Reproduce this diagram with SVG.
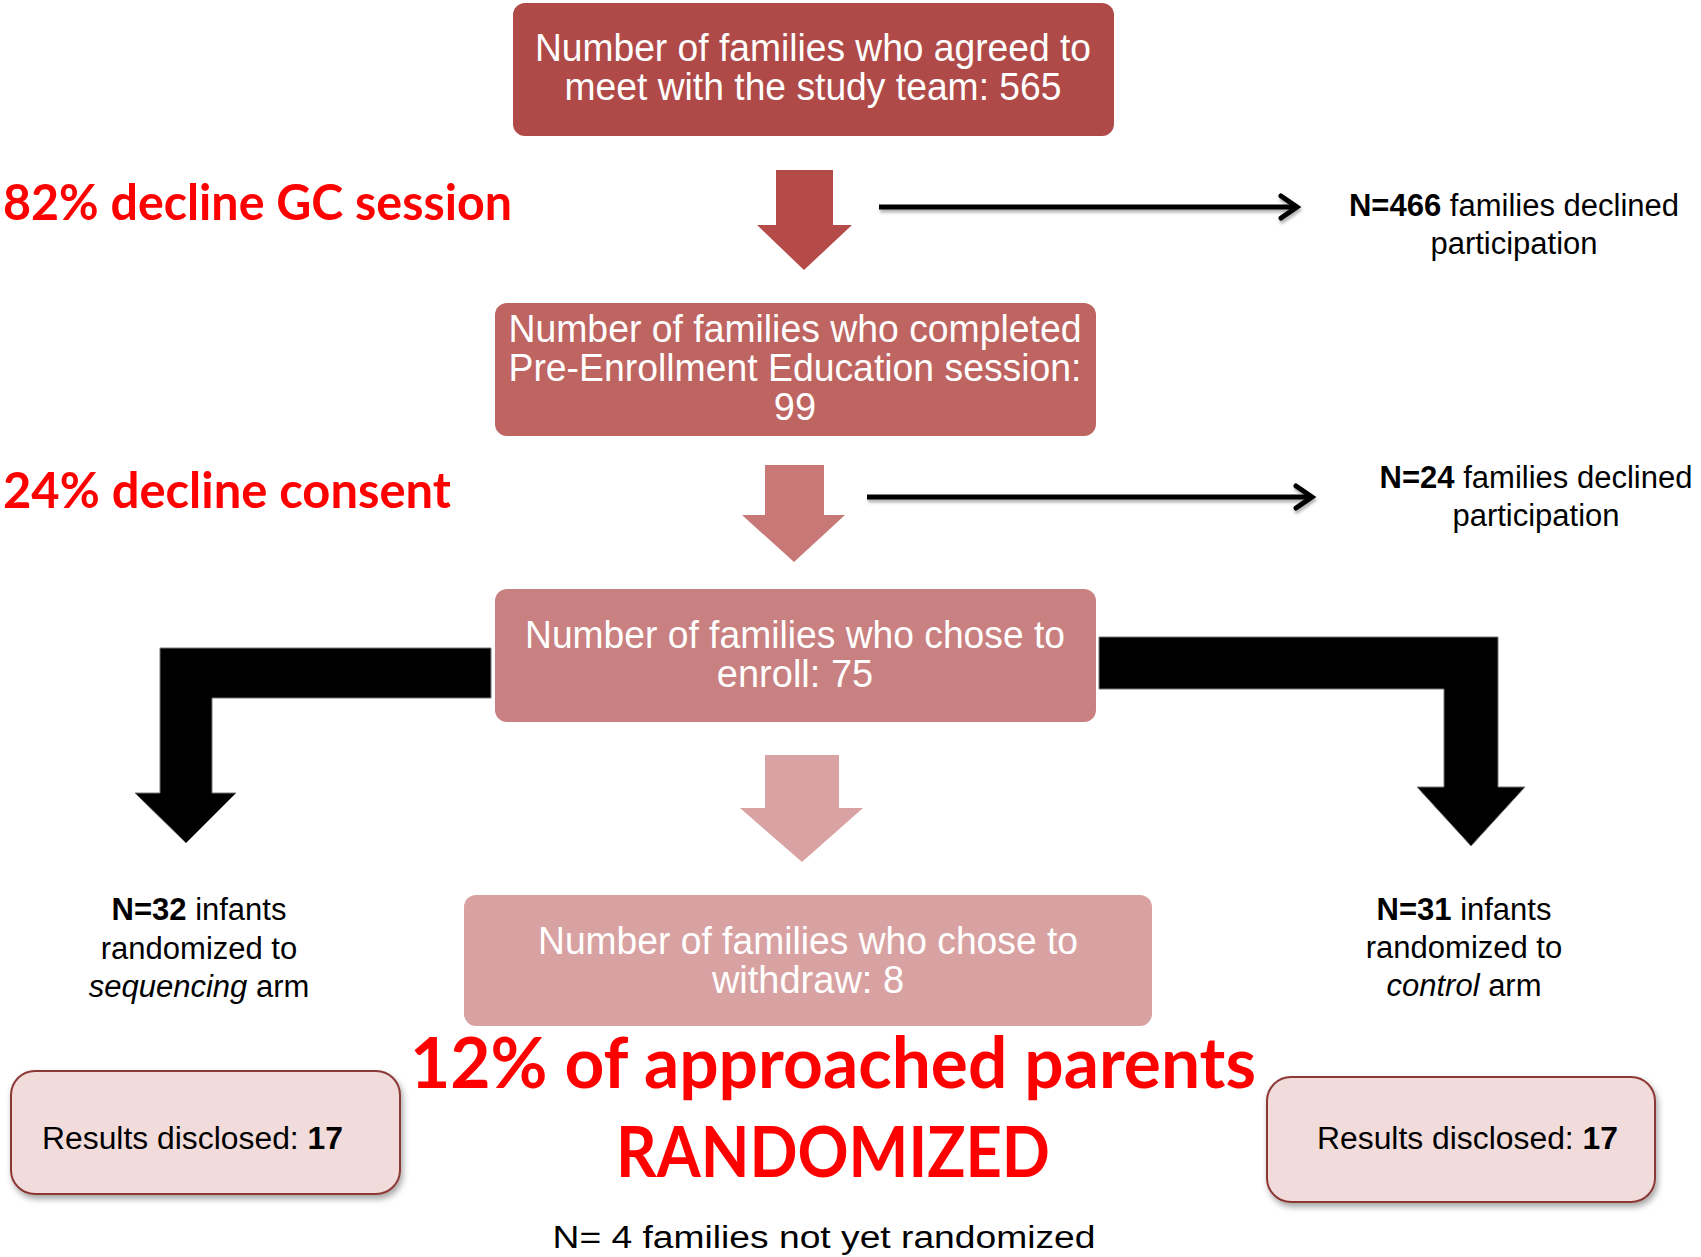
<svg xmlns="http://www.w3.org/2000/svg" width="1701" height="1257" viewBox="0 0 1701 1257">
<style>
.wt{font-family:"Liberation Sans",Arial,sans-serif;font-size:38px;fill:#ffffff;text-anchor:middle}
.bt{font-family:"Liberation Sans",Arial,sans-serif;font-size:31px;fill:#000000}
.mid{text-anchor:middle}
.red{font-family:Lato,"Open Sans",sans-serif;font-weight:bold;fill:#ff0000}
.b{font-weight:bold}
.i{font-style:italic}
.res{fill:#f2dcdb;stroke:#8c3836;stroke-width:2}
.ln{stroke:#000;stroke-width:5;fill:none}
</style>
<defs>
<filter id="sh" x="-10%" y="-10%" width="130%" height="140%">
<feDropShadow dx="2" dy="4" stdDeviation="3" flood-color="#000" flood-opacity="0.35"/>
</filter>
<filter id="lsh" filterUnits="userSpaceOnUse" x="800" y="150" width="600" height="420">
<feDropShadow dx="1" dy="3" stdDeviation="1.5" flood-color="#000" flood-opacity="0.3"/>
</filter>
<marker id="chev" markerUnits="userSpaceOnUse" markerWidth="30" markerHeight="30" refX="22" refY="15" orient="auto" viewBox="0 0 30 30">
<path d="M6,4 L22,15 L6,26" stroke="#000" stroke-width="5" fill="none" stroke-linecap="round"/>
</marker>
</defs>
<rect width="1701" height="1257" fill="#ffffff"/>

<g id="connectors">
<path d="M776,170 H833 V225 H852 L804,270 L757,225 H776 Z" fill="#b44b49"/>
<path d="M765,465 H824 V515 H845 L794,562 L742,515 H765 Z" fill="#c87877"/>
<path d="M765,755 H839 V808 H863 L802,862 L740,808 H765 Z" fill="#d9a3a3"/>
<g filter="url(#lsh)">
<path class="ln" d="M879,207 H1297" marker-end="url(#chev)"/>
<path class="ln" d="M867,497 H1312" marker-end="url(#chev)"/>
</g>
<path d="M491,648 V698 H212 V793 H236 L186,843 L135,793 H160 V648 Z" fill="#000" stroke="#777" stroke-width="1"/>
<path d="M1099,637 H1498 V787 H1525 L1471,846 L1417,787 H1444 V689 H1099 Z" fill="#000" stroke="#777" stroke-width="1"/>
</g>

<g id="box-agreed">
<rect x="513" y="3" width="601" height="133" rx="12" fill="#b04a48"/>
<text class="wt" x="813" y="61" textLength="556" lengthAdjust="spacingAndGlyphs">Number of families who agreed to</text>
<text class="wt" x="813" y="100" textLength="497" lengthAdjust="spacingAndGlyphs">meet with the study team: 565</text>
</g>

<g id="box-completed">
<rect x="495" y="303" width="601" height="133" rx="12" fill="#be6461"/>
<text class="wt" x="795" y="342" textLength="573" lengthAdjust="spacingAndGlyphs">Number of families who completed</text>
<text class="wt" x="795" y="381" textLength="573" lengthAdjust="spacingAndGlyphs">Pre-Enrollment Education session:</text>
<text class="wt" x="795" y="420">99</text>
</g>

<g id="box-enroll">
<rect x="495" y="589" width="601" height="133" rx="12" fill="#c98080"/>
<text class="wt" x="795" y="648" textLength="540" lengthAdjust="spacingAndGlyphs">Number of families who chose to</text>
<text class="wt" x="795" y="687">enroll: 75</text>
</g>

<g id="box-withdraw">
<rect x="464" y="895" width="688" height="131" rx="12" fill="#d8a2a3"/>
<text class="wt" x="808" y="954" textLength="540" lengthAdjust="spacingAndGlyphs">Number of families who chose to</text>
<text class="wt" x="808" y="993">withdraw: 8</text>
</g>

<g id="label-decline-gc">
<text class="red" x="3" y="220" font-size="50" textLength="509" lengthAdjust="spacingAndGlyphs">82% decline GC session</text>
</g>
<g id="label-decline-consent">
<text class="red" x="3" y="508" font-size="50" textLength="448" lengthAdjust="spacingAndGlyphs">24% decline consent</text>
</g>

<g id="declined-466">
<text class="bt mid" x="1514" y="216"><tspan class="b">N=466</tspan> families declined</text>
<text class="bt mid" x="1514" y="254">participation</text>
</g>
<g id="declined-24">
<text class="bt mid" x="1536" y="488"><tspan class="b">N=24</tspan> families declined</text>
<text class="bt mid" x="1536" y="526">participation</text>
</g>

<g id="arm-sequencing">
<text class="bt mid" x="199" y="920"><tspan class="b">N=32</tspan> infants</text>
<text class="bt mid" x="199" y="959">randomized to</text>
<text class="bt mid" x="199" y="997"><tspan class="i">sequencing</tspan> arm</text>
</g>
<g id="arm-control">
<text class="bt mid" x="1464" y="920"><tspan class="b">N=31</tspan> infants</text>
<text class="bt mid" x="1464" y="958">randomized to</text>
<text class="bt mid" x="1464" y="996"><tspan class="i">control</tspan> arm</text>
</g>

<g id="results-left">
<rect class="res" x="11" y="1071" width="389" height="123" rx="24" filter="url(#sh)"/>
<text class="bt" x="42" y="1149" textLength="301" lengthAdjust="spacingAndGlyphs">Results disclosed: <tspan class="b">17</tspan></text>
</g>
<g id="results-right">
<rect class="res" x="1267" y="1077" width="388" height="125" rx="24" filter="url(#sh)"/>
<text class="bt" x="1317" y="1149" textLength="301" lengthAdjust="spacingAndGlyphs">Results disclosed: <tspan class="b">17</tspan></text>
</g>

<g id="label-randomized">
<text class="red" x="410" y="1088" font-size="71" textLength="846" lengthAdjust="spacingAndGlyphs">12% of approached parents</text>
<text class="red" x="616" y="1177" font-size="71" textLength="434" lengthAdjust="spacingAndGlyphs">RANDOMIZED</text>
</g>

<g id="not-randomized">
<text class="bt mid" x="824" y="1248" font-size="39" textLength="543" lengthAdjust="spacingAndGlyphs">N= 4 families not yet randomized</text>
</g>
</svg>
